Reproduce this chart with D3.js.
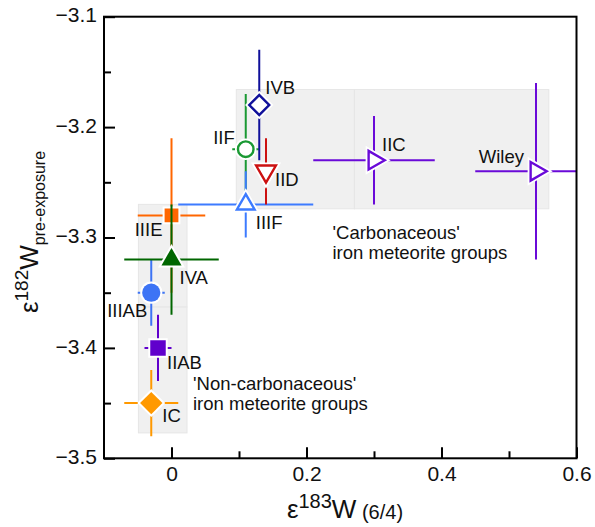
<!DOCTYPE html>
<html>
<head>
<meta charset="utf-8">
<script src="https://cdn.jsdelivr.net/npm/d3@7"></script>
<style>
  body { margin: 0; background: #fff; }
  svg { display: block; font-family: "Liberation Sans", Arial, Helvetica, sans-serif; }
</style>
</head>
<body>
<svg width="595" height="527"></svg>
<script>
// meteorite groups, values
const groups = ['IC', 'IIAB', 'IIIAB', 'IIIE', 'IVA', 'IIF', 'IIIF', 'IVB', 'IID', 'IIC', 'Wiley']
const e183 = [-0.03, -0.02, -0.03, 0.00, 0.00, 0.11, 0.11, 0.13, 0.14, 0.30, 0.54]
const e183Err = [0.04, 0.02, 0.02, 0.05, 0.07, 0.02, 0.10, 0.00, 0.00, 0.09, 0.09]
const e182 = [-3.45, -3.40, -3.35, -3.28, -3.32, -3.22, -3.27, -3.18, -3.24, -3.23, -3.24]
const e182Err = [0.03, 0.03, 0.03, 0.07, 0.05, 0.05, 0.03, 0.05, 0.03, 0.04, 0.08]

// shaded fields (carbonaceous = first two, non-carbonaceous = last two)
const boxX0 = [0.096, 0.271, -0.049, -0.049]
const boxX1 = [0.271, 0.559, 0.023, 0.023]
const boxY0 = [-3.274, -3.274, -3.363, -3.477]
const boxY1 = [-3.166, -3.166, -3.270, -3.363]

const xMajor = [0, 0.2, 0.4, 0.6]
const xMinor = [0.1, 0.3, 0.5]
const yMajor = [-3.5, -3.4, -3.3, -3.2, -3.1]
const yMinor = [-3.45, -3.35, -3.25, -3.15]

// marker look and label placement for each group
const style = {
    IC:    { color: '#ff9900', shape: 'diamond', filled: true, size: 250, dx: 11, dy: 19, anchor: 'start' },
    IIAB:  { color: '#6000cc', shape: 'square', filled: true, size: 240, dx: 9, dy: 21, anchor: 'start' },
    IIIAB: { color: '#3d74f5', shape: 'circle', filled: true, size: 260, dx: -4, dy: 24, anchor: 'end' },
    IIIE:  { color: '#ff6600', shape: 'square', filled: true, size: 190, dx: -9, dy: 21, anchor: 'end' },
    IVA:   { color: '#006600', shape: 'triangle', filled: true, size: 175, dx: 8, dy: 24, anchor: 'start' },
    IIF:   { color: '#1a9933', shape: 'circle', filled: false, size: 190, dx: -11, dy: -5, anchor: 'end' },
    IIIF:  { color: '#3d7bff', shape: 'triangle', filled: false, size: 135, dx: 10, dy: 25, anchor: 'start' },
    IVB:   { color: '#10109a', shape: 'diamond', filled: false, size: 200, dx: 6, dy: -11, anchor: 'start' },
    IID:   { color: '#cc1111', shape: 'triangleDown', filled: false, size: 170, dx: 9, dy: 15, anchor: 'start' },
    IIC:   { color: '#6a0ad8', shape: 'triangleRight', filled: false, size: 150, dx: 8, dy: -9, anchor: 'start' },
    Wiley: { color: '#6a0ad8', shape: 'triangleRight', filled: false, size: 150, dx: -12, dy: -8, anchor: 'end' }
}

const points = groups.map((name, i) => ({
    name,
    x: e183[i], xe: e183Err[i],
    y: e182[i], ye: e182Err[i],
    ...style[name]
}))

const svg = d3.select('svg')
const x = d3.scaleLinear().domain([-0.1, 0.6]).range([104, 576.5])
const y = d3.scaleLinear().domain([-3.5, -3.1]).range([458.3, 16.7])

const plot = svg.append('g')

// shaded group fields
plot.append('clipPath').attr('id', 'clip')
    .append('rect')
    .attr('x', x.range()[0]).attr('y', y.range()[1])
    .attr('width', x.range()[1] - x.range()[0])
    .attr('height', y.range()[0] - y.range()[1])

plot.selectAll('.field')
    .data(boxX0.map((d, i) => i))
    .join('rect')
    .attr('class', 'field')
    .attr('x', i => x(boxX0[i]))
    .attr('y', i => y(boxY1[i]))
    .attr('width', i => x(boxX1[i]) - x(boxX0[i]))
    .attr('height', i => y(boxY0[i]) - y(boxY1[i]))
    .attr('fill', '#f0f0f0')
    .attr('stroke', '#e6e6e6')
    .attr('stroke-width', 1)

// annotations for the fields
const note = (lines, px, py) => {
    const t = plot.append('text').attr('font-size', 18.5).attr('fill', '#111')
    lines.forEach((s, i) => {
        t.append('tspan').attr('x', px).attr('y', py + i * 19.5).text(s)
    })
}
note(["'Carbonaceous'", 'iron meteorite groups'], 332.5, 239)
note(["'Non-carbonaceous'", 'iron meteorite groups'], 193, 390)

// error bars and markers, drawn group by group so later bars sit on earlier symbols
const symbolPath = (shape, size) => {
    const type = shape === 'circle' ? d3.symbolCircle
        : (shape === 'square' || shape === 'diamond') ? d3.symbolSquare
        : d3.symbolTriangle
    return d3.symbol(type, size)()
}
const rotation = { diamond: 45, triangleDown: 180, triangleRight: 90 }

const data = plot.append('g').attr('clip-path', 'url(#clip)')

points.forEach(p => {
    const g = data.append('g')
    const cx = x(p.x), cy = y(p.y)
    if (p.xe > 0) {
        g.append('line')
            .attr('x1', x(p.x - p.xe)).attr('x2', x(p.x + p.xe))
            .attr('y1', cy).attr('y2', cy)
            .attr('stroke', p.color).attr('stroke-width', 2)
    }
    if (p.ye > 0) {
        g.append('line')
            .attr('x1', cx).attr('x2', cx)
            .attr('y1', y(p.y - p.ye)).attr('y2', y(p.y + p.ye))
            .attr('stroke', p.color).attr('stroke-width', 2)
    }
    const m = g.append('g')
        .attr('transform', `translate(${cx},${cy}) rotate(${rotation[p.shape] || 0})`)
    const d = symbolPath(p.shape, p.size)
    // white halo
    m.append('path').attr('d', d)
        .attr('fill', '#fff').attr('stroke', '#fff')
        .attr('stroke-width', p.filled ? 4 : 6)
        .attr('stroke-linejoin', 'miter')
    m.append('path').attr('d', d)
        .attr('fill', p.filled ? p.color : '#fff')
        .attr('stroke', p.color)
        .attr('stroke-width', p.filled ? 0 : 2.4)
        .attr('stroke-linejoin', 'miter')
})

// group labels
plot.selectAll('.lab')
    .data(points)
    .join('text')
    .attr('class', 'lab')
    .attr('x', p => x(p.x) + p.dx)
    .attr('y', p => y(p.y) + p.dy)
    .attr('text-anchor', p => p.anchor)
    .attr('font-size', 18.5)
    .attr('fill', '#111')
    .text(p => p.name)

// frame and axes, ticks pointing inward
const [x0, x1] = x.range()
const [yb, yt] = y.range()
svg.append('rect')
    .attr('x', x0).attr('y', yt)
    .attr('width', x1 - x0).attr('height', yb - yt)
    .attr('fill', 'none').attr('stroke', '#000').attr('stroke-width', 2)

const xAxis = svg.append('g')
    .attr('transform', `translate(0,${yb})`)
    .call(d3.axisBottom(x).tickValues(xMajor).tickSizeInner(-11).tickSizeOuter(0).tickPadding(8)
        .tickFormat(d => d === 0 ? '0' : d3.format('.1f')(d)))
svg.append('g')
    .attr('transform', `translate(0,${yb})`)
    .call(d3.axisBottom(x).tickValues(xMinor).tickSizeInner(-7).tickSizeOuter(0).tickFormat(''))

const yAxis = svg.append('g')
    .attr('transform', `translate(${x0},0)`)
    .call(d3.axisLeft(y).tickValues(yMajor).tickSizeInner(-11).tickSizeOuter(0).tickPadding(7)
        .tickFormat(d3.format('.1f')))
svg.append('g')
    .attr('transform', `translate(${x0},0)`)
    .call(d3.axisLeft(y).tickValues(yMinor).tickSizeInner(-7).tickSizeOuter(0).tickFormat(''))

svg.selectAll('.domain').remove()
svg.selectAll('.tick line').attr('stroke', '#000').attr('stroke-width', 2)
svg.selectAll('.tick text')
    .attr('font-size', 21)
    .attr('font-family', '"Liberation Sans", Arial, Helvetica, sans-serif')
    .attr('fill', '#111')
yAxis.selectAll('.tick text').attr('dy', '0.25em')

// axis titles
const xt = svg.append('text')
    .attr('x', 345).attr('y', 518)
    .attr('text-anchor', 'middle')
    .attr('font-size', 26).attr('fill', '#111')
xt.append('tspan').text('ε')
xt.append('tspan').attr('font-size', 20).attr('dy', -10).text('183')
xt.append('tspan').attr('dy', 10).text('W')
xt.append('tspan').attr('font-size', 20).attr('dy', 1).text(' (6/4)')

const yt2 = svg.append('text')
    .attr('transform', 'translate(38,232) rotate(-90)')
    .attr('text-anchor', 'middle')
    .attr('font-size', 26).attr('fill', '#111')
yt2.append('tspan').text('ε')
yt2.append('tspan').attr('font-size', 19).attr('dy', -10).text('182')
yt2.append('tspan').attr('dy', 10).text('W')
yt2.append('tspan').attr('font-size', 16).attr('dy', 7).text('pre-exposure')
</script>
</body>
</html>
